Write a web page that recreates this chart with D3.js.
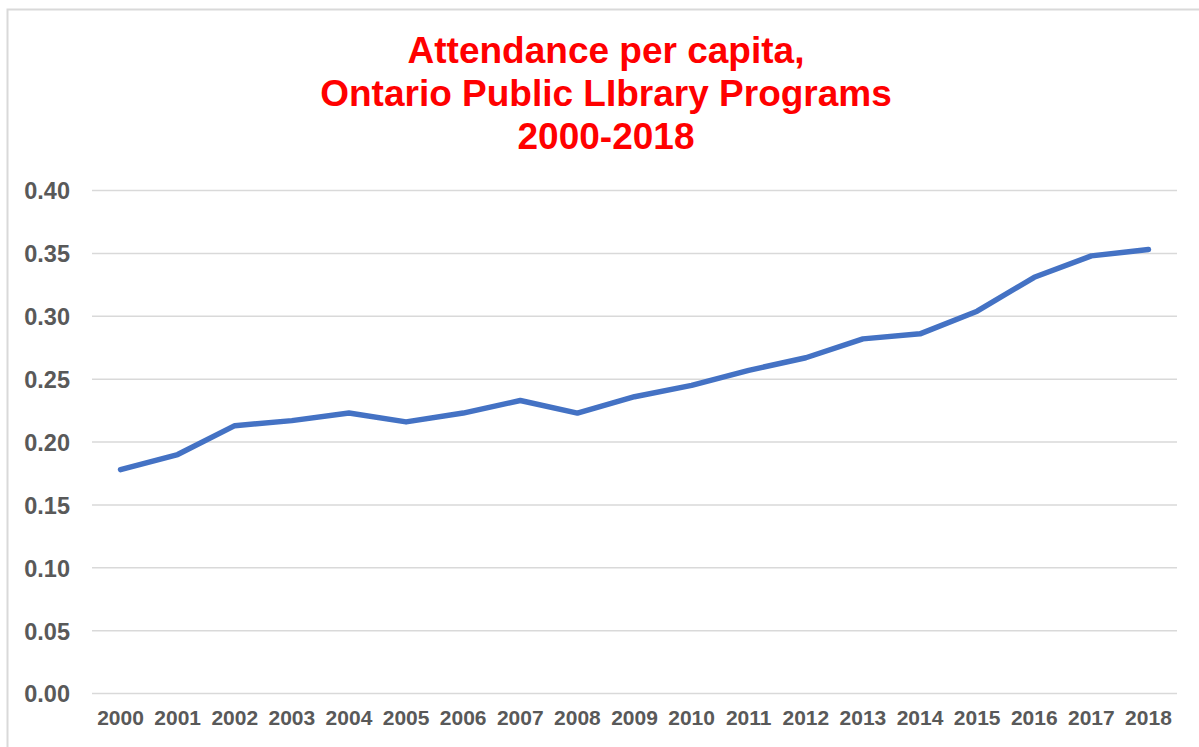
<!DOCTYPE html>
<html>
<head>
<meta charset="utf-8">
<script src="https://cdn.jsdelivr.net/npm/d3@7"></script>
<style>
  body { margin: 0; background: #fff; }
  text { font-family: "Liberation Sans", Arial, sans-serif; font-weight: bold; }
</style>
</head>
<body>
<div id="chart"></div>
<script>
// chart data
const years = ["2000", "2001", "2002", "2003", "2004", "2005", "2006", "2007", "2008", "2009",
  "2010", "2011", "2012", "2013", "2014", "2015", "2016", "2017", "2018"];
const attendance = [0.178, 0.190, 0.213, 0.217, 0.223, 0.216, 0.223, 0.233, 0.223, 0.236,
  0.245, 0.257, 0.267, 0.282, 0.286, 0.304, 0.331, 0.348, 0.353];
const yTicks = [0, 0.05, 0.10, 0.15, 0.20, 0.25, 0.30, 0.35, 0.40];
const titleLines = ["Attendance per capita,", "Ontario Public LIbrary Programs", "2000-2018"];

const W = 1199, H = 747;
const margin = { top: 190.5, right: 22, bottom: 53.5, left: 92 };
const width = W - margin.left - margin.right,
  height = H - margin.top - margin.bottom;

const svg = d3.select("#chart").append("svg")
  .attr("width", W)
  .attr("height", H);

// outer chart border (runs off the right/bottom edge)
svg.append("rect")
  .attr("x", 7.5).attr("y", 9.5)
  .attr("width", W + 20).attr("height", H + 20)
  .attr("fill", "none")
  .attr("stroke", "#d9d9d9")
  .attr("stroke-width", 2);

// title
svg.append("text")
  .attr("text-anchor", "middle")
  .attr("fill", "#ff0000")
  .style("font-size", "37px")
  .selectAll("tspan")
  .data(titleLines)
  .enter()
  .append("tspan")
  .attr("x", 606)
  .attr("y", (d, i) => 63 + i * 43)
  .text(d => d);

const g = svg.append("g")
  .attr("transform", `translate(${margin.left},${margin.top})`);

const x = d3.scaleBand()
  .domain(years)
  .range([0, width]);

const y = d3.scaleLinear()
  .domain([0, 0.4])
  .range([height, 0]);

// gridlines
g.append("g")
  .selectAll("line")
  .data(yTicks)
  .enter()
  .append("line")
  .attr("x1", 0).attr("x2", width)
  .attr("y1", d => y(d)).attr("y2", d => y(d))
  .attr("stroke", "#d9d9d9")
  .attr("stroke-width", 1.5);

// y axis
const yAxis = g.append("g")
  .call(d3.axisLeft(y).tickValues(yTicks).tickFormat(d3.format(".2f")).tickSize(0).tickPadding(22));
yAxis.select(".domain").remove();
yAxis.selectAll("text")
  .attr("fill", "#595959")
  .style("font-size", "23.5px")
  .attr("dy", "0.36em");

// x axis
const xAxis = g.append("g")
  .attr("transform", `translate(0,${height})`)
  .call(d3.axisBottom(x).tickSize(0).tickPadding(17));
xAxis.select(".domain").remove();
xAxis.selectAll("text")
  .attr("fill", "#595959")
  .style("font-size", "21px");

// line
const line = d3.line()
  .x((d, i) => x(years[i]) + x.bandwidth() / 2)
  .y(d => y(d));

g.append("path")
  .datum(attendance)
  .attr("fill", "none")
  .attr("stroke", "#4472c4")
  .attr("stroke-width", 5.5)
  .attr("stroke-linejoin", "round")
  .attr("stroke-linecap", "round")
  .attr("d", line);
</script>
</body>
</html>
